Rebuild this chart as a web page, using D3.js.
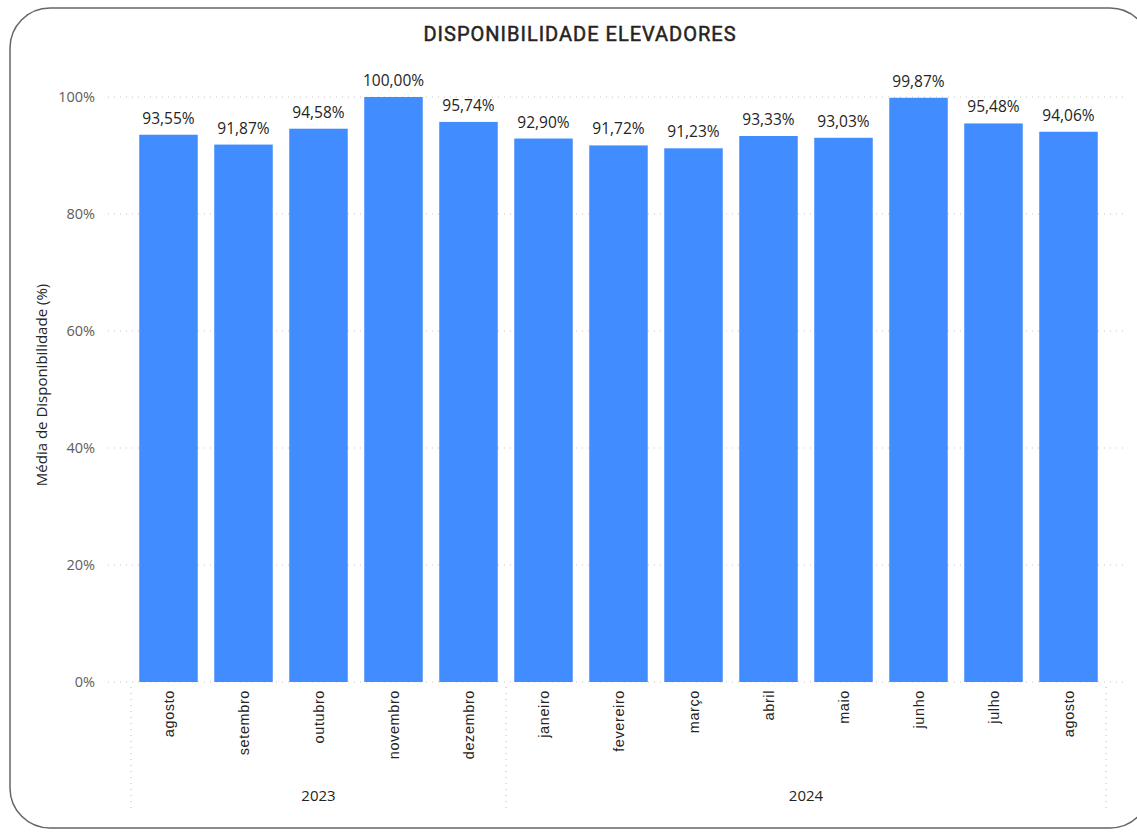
<!DOCTYPE html>
<html><head><meta charset="utf-8">
<script src="https://cdn.jsdelivr.net/npm/d3@7"></script>
<style>body{margin:0;background:#fff;font-family:"Open Sans","Noto Sans",sans-serif}</style>
</head><body><svg id="c" width="1137" height="832"></svg>
<script>
const months = ["agosto","setembro","outubro","novembro","dezembro","janeiro","fevereiro","março","abril","maio","junho","julho","agosto"];
const years = ["2023","2023","2023","2023","2023","2024","2024","2024","2024","2024","2024","2024","2024"];
const values = [93.55,91.87,94.58,100.00,95.74,92.90,91.72,91.23,93.33,93.03,99.87,95.48,94.06];
const yTicks = [0,20,40,60,80,100];

const svg = d3.select("#c");
svg.append("rect").attr("x",10).attr("y",8).attr("width",1140).attr("height",820).attr("rx",40)
  .attr("fill","#fff").attr("stroke","#666").attr("stroke-width",1.5);

svg.append("text").attr("x",580).attr("y",41).attr("text-anchor","middle")
  .attr("font-family","Roboto,sans-serif").attr("font-weight",400).attr("letter-spacing",1)
  .attr("font-size",20).attr("fill","#252423").attr("stroke","#252423").attr("stroke-width",0.5)
  .text("DISPONIBILIDADE ELEVADORES");

const idx = months.map((m,i)=>i);
const x = d3.scaleBand().domain(idx).range([131,1106]).paddingInner(0.22).paddingOuter(0.11);
const y = d3.scaleLinear().domain([0,100]).range([682,97]);

// gridlines
const g = svg.append("g");
g.selectAll("line.grid").data(yTicks).join("line")
  .attr("x1",108).attr("x2",1128).attr("y1",d=>y(d)).attr("y2",d=>y(d))
  .attr("stroke","#c8c8c8").attr("stroke-dasharray","1,5").attr("stroke-width",1.2);

const yAxis = d3.axisLeft(y).tickValues(yTicks).tickFormat(d=>d+"%").tickSize(0).tickPadding(0);
const ya = svg.append("g").attr("transform","translate(95,0)").call(yAxis);
ya.select(".domain").remove();
ya.selectAll("text").attr("font-size",14.5).attr("fill","#605E5C").attr("font-family","'Open Sans',sans-serif");

svg.append("text").attr("transform","translate(47,385) rotate(-90)").attr("text-anchor","middle")
  .attr("font-size",15).attr("fill","#252423").text("Média de Disponibilidade (%)");

svg.selectAll("rect.bar").data(values).join("rect").attr("class","bar")
  .attr("x",(d,i)=>x(i)).attr("width",x.bandwidth()).attr("y",d=>y(d)).attr("height",d=>y(0)-y(d))
  .attr("fill","#418CFE");

svg.selectAll("text.lbl").data(values).join("text")
  .attr("x",(d,i)=>x(i)+x.bandwidth()/2).attr("y",d=>y(d)-11).attr("text-anchor","middle")
  .attr("font-size",15.5).attr("fill","#252423")
  .text(d=>d3.format(".2f")(d).replace(".",",")+"%");

// month axis
const xAxis = d3.axisBottom(x).tickFormat(i=>months[i]).tickSize(0).tickPadding(0);
const xa = svg.append("g").attr("transform","translate(0,690)").call(xAxis);
xa.select(".domain").remove();
xa.selectAll("text").attr("transform","rotate(-90)").attr("text-anchor","end")
  .attr("x",0).attr("y",0).attr("dy","0.35em").attr("dx",0).attr("letter-spacing",0.6)
  .attr("font-size",14.5).attr("fill","#252423");

// year groups
const groups = d3.groups(idx, i=>years[i]);
const seps = [0];
groups.forEach(([yr, arr])=>{ seps.push(arr[arr.length-1]+1); });
const sepX = i => i < months.length ? x(i) - x.step()*x.paddingInner()/2 : x(months.length-1)+x.bandwidth()+x.step()*x.paddingInner()/2;
svg.selectAll("line.sep").data(seps).join("line")
  .attr("x1",d=>d===0?131:(d===months.length?1106:sepX(d))).attr("x2",d=>d===0?131:(d===months.length?1106:sepX(d)))
  .attr("y1",687).attr("y2",808).attr("stroke","#c8c8c8").attr("stroke-dasharray","1,5").attr("stroke-width",1.2);
svg.selectAll("text.yr").data(groups).join("text")
  .attr("x",([yr,arr])=>(x(arr[0])+x(arr[arr.length-1])+x.bandwidth())/2)
  .attr("y",801).attr("text-anchor","middle").attr("font-size",15).attr("fill","#252423")
  .text(([yr])=>yr);
</script></body></html>
